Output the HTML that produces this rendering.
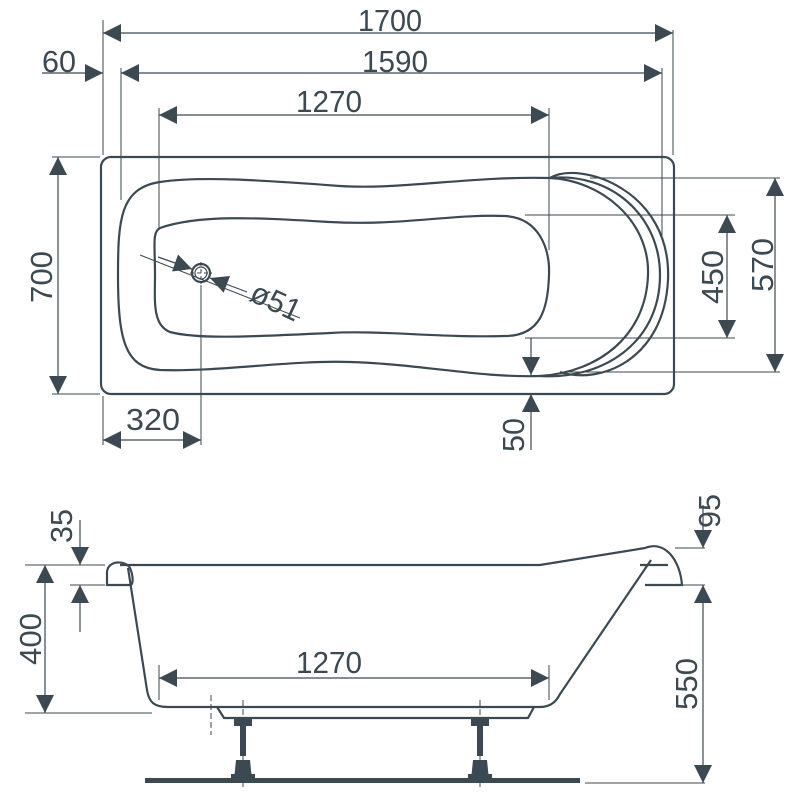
<!DOCTYPE html>
<html><head><style>
html,body{margin:0;padding:0;background:#fff}
svg{display:block}
text{font-family:"Liberation Sans Narrow","Liberation Sans",sans-serif;fill:#3b4a52;font-size:31px}
</style></head><body>
<svg width="800" height="800" viewBox="0 0 800 800" xmlns="http://www.w3.org/2000/svg">
<defs>
<marker id="a" viewBox="0 0 10 10" refX="10" refY="5" markerWidth="26" markerHeight="18" markerUnits="userSpaceOnUse" orient="auto-start-reverse"><path d="M0,0 L10,5 L0,10z" fill="#3b4a52"/></marker>
</defs>
<g stroke="#3b4a52" fill="none">
<g stroke-width="1">
<line x1="103" y1="20" x2="103" y2="155"/><line x1="673" y1="30" x2="673" y2="155"/>
<line x1="121" y1="68" x2="121" y2="200"/><line x1="662" y1="68" x2="662" y2="240"/>
<line x1="159" y1="108" x2="159" y2="228"/><line x1="549" y1="108" x2="549" y2="250"/>
<line x1="52" y1="157" x2="100" y2="157"/><line x1="52" y1="394" x2="100" y2="394"/>
<line x1="590" y1="178" x2="780" y2="178"/><line x1="525" y1="215" x2="735" y2="215"/>
<line x1="525" y1="338" x2="735" y2="338"/><line x1="565" y1="372" x2="780" y2="372"/>
<line x1="103" y1="396" x2="103" y2="445"/><line x1="201" y1="285" x2="201" y2="445"/>
<line x1="140" y1="255" x2="300" y2="318"/>
<line x1="190" y1="273" x2="212" y2="273" stroke-dasharray="4,3"/>
<line x1="201" y1="262" x2="201" y2="284" stroke-dasharray="4,3"/>
</g>
<g stroke-width="1.2">
<line x1="103" y1="33" x2="673" y2="33" marker-start="url(#a)" marker-end="url(#a)"/>
<line x1="121" y1="73" x2="662" y2="73" marker-start="url(#a)" marker-end="url(#a)"/>
<line x1="42" y1="73" x2="103" y2="73" marker-end="url(#a)"/>
<line x1="159" y1="115" x2="549" y2="115" marker-start="url(#a)" marker-end="url(#a)"/>
<line x1="58" y1="157" x2="58" y2="394" marker-start="url(#a)" marker-end="url(#a)"/>
<line x1="727" y1="215" x2="727" y2="338" marker-start="url(#a)" marker-end="url(#a)"/>
<line x1="775" y1="178" x2="775" y2="372" marker-start="url(#a)" marker-end="url(#a)"/>
<line x1="103" y1="440" x2="201" y2="440" marker-start="url(#a)" marker-end="url(#a)"/>
<line x1="531" y1="338" x2="531" y2="375" marker-end="url(#a)"/>
<line x1="531" y1="450" x2="531" y2="394" marker-end="url(#a)"/>
<line x1="158" y1="257" x2="192" y2="269" marker-end="url(#a)"/>
<line x1="247" y1="292" x2="210" y2="278" marker-end="url(#a)"/>
</g>
<g stroke-width="2.2">
<rect x="101" y="157" width="573" height="237" rx="10"/>
<path d="M550,178 C470,176 400,190 340,186 C260,180 200,176 160,182 C120,188 118,220 118,275 C118,340 125,368 160,370 C220,372 290,360 350,362 C420,364 480,378 540,376"/>
<path d="M550,178 C610,172 660,215 660,275 C660,345 600,380 540,376"/>
<path d="M550,178 C580,160 672,190 668,280 C664,360 600,385 560,372"/>
<path d="M550,178 C600,180 650,220 648,275 C646,335 600,372 540,376"/>
<path d="M160,228 C200,214 260,218 330,222 C400,226 450,214 505,216 C540,218 550,250 549,275 C548,310 540,336 505,336 C440,338 380,330 330,333 C260,336 200,340 170,332 C152,325 155,300 155,275 C155,245 152,232 160,228z"/>
<circle cx="201" cy="273" r="9"/><circle cx="201" cy="273" r="6" stroke-width="1.2"/>
</g>
<g stroke-width="1">
<line x1="25" y1="565" x2="105" y2="565"/><line x1="70" y1="585" x2="105" y2="585"/>
<line x1="80" y1="538" x2="80" y2="565"/><line x1="80" y1="585" x2="80" y2="632"/>
<line x1="25" y1="713" x2="152" y2="713"/>
<line x1="675" y1="548" x2="705" y2="548"/><line x1="675" y1="585" x2="705" y2="585"/>
<line x1="585" y1="783" x2="705" y2="783"/>
<line x1="159" y1="665" x2="159" y2="700"/><line x1="549" y1="665" x2="549" y2="700"/>
<line x1="211" y1="695" x2="211" y2="735" stroke-dasharray="6,3"/>
<line x1="243" y1="700" x2="243" y2="790" stroke-dasharray="6,3"/>
<line x1="480" y1="700" x2="480" y2="790" stroke-dasharray="6,3"/>
</g>
<g stroke-width="1.2">
<line x1="80" y1="520" x2="80" y2="565" marker-end="url(#a)"/>
<line x1="80" y1="632" x2="80" y2="585" marker-end="url(#a)"/>
<line x1="45" y1="565" x2="45" y2="713" marker-start="url(#a)" marker-end="url(#a)"/>
<line x1="703" y1="505" x2="703" y2="548" marker-end="url(#a)"/>
<line x1="703" y1="585" x2="703" y2="783" marker-start="url(#a)" marker-end="url(#a)"/>
<line x1="159" y1="678" x2="549" y2="678" marker-start="url(#a)" marker-end="url(#a)"/>
</g>
<g stroke-width="2.2">
<path d="M120,565 L540,565 L645,548 C665,540 680,560 682,585 L645,585"/>
<path d="M130,585 L107,585 L107,572 C108,560 125,560 130,568 C133,575 134,585 130,585"/>
<path d="M128,568 L147,690 C149,703 155,707 168,707 L540,707 C552,707 557,700 560,694 L651,560"/>
<line x1="640" y1="565" x2="668" y2="565"/>
<path d="M217,707 L224,718 L528,718 L534,707"/>
</g>
<rect x="145" y="778" width="435" height="5" fill="#3b4a52" stroke="none"/>
<g fill="#3b4a52" stroke="none">
<rect x="234" y="718" width="18" height="8"/><rect x="240" y="726" width="6" height="30"/>
<path d="M236,760 L250,760 L252,780 L234,780z"/><rect x="231" y="774" width="24" height="5"/>
<rect x="471" y="718" width="18" height="8"/><rect x="477" y="726" width="6" height="30"/>
<path d="M473,760 L487,760 L489,780 L471,780z"/><rect x="468" y="774" width="24" height="5"/>
</g>
</g>
<text x="358" y="31" textLength="64" lengthAdjust="spacingAndGlyphs">1700</text>
<text x="362" y="72" textLength="66" lengthAdjust="spacingAndGlyphs">1590</text>
<text x="42" y="72" textLength="34" lengthAdjust="spacingAndGlyphs">60</text>
<text x="296" y="112" textLength="66" lengthAdjust="spacingAndGlyphs">1270</text>
<text x="126" y="430" textLength="54" lengthAdjust="spacingAndGlyphs">320</text>
<text x="248" y="300" textLength="52" lengthAdjust="spacingAndGlyphs" transform="rotate(25 248 300)">ø51</text>
<text transform="translate(52,303) rotate(-90)" textLength="52" lengthAdjust="spacingAndGlyphs">700</text>
<text transform="translate(723,304) rotate(-90)" textLength="54" lengthAdjust="spacingAndGlyphs">450</text>
<text transform="translate(773,292) rotate(-90)" textLength="54" lengthAdjust="spacingAndGlyphs">570</text>
<text transform="translate(524,452) rotate(-90)" textLength="34" lengthAdjust="spacingAndGlyphs">50</text>
<text transform="translate(72,543) rotate(-90)" textLength="34" lengthAdjust="spacingAndGlyphs">35</text>
<text transform="translate(41,665) rotate(-90)" textLength="52" lengthAdjust="spacingAndGlyphs">400</text>
<text transform="translate(720,528) rotate(-90)" textLength="34" lengthAdjust="spacingAndGlyphs">95</text>
<text transform="translate(697,710) rotate(-90)" textLength="52" lengthAdjust="spacingAndGlyphs">550</text>
<text x="296" y="673" textLength="66" lengthAdjust="spacingAndGlyphs">1270</text>
</svg>
</body></html>
